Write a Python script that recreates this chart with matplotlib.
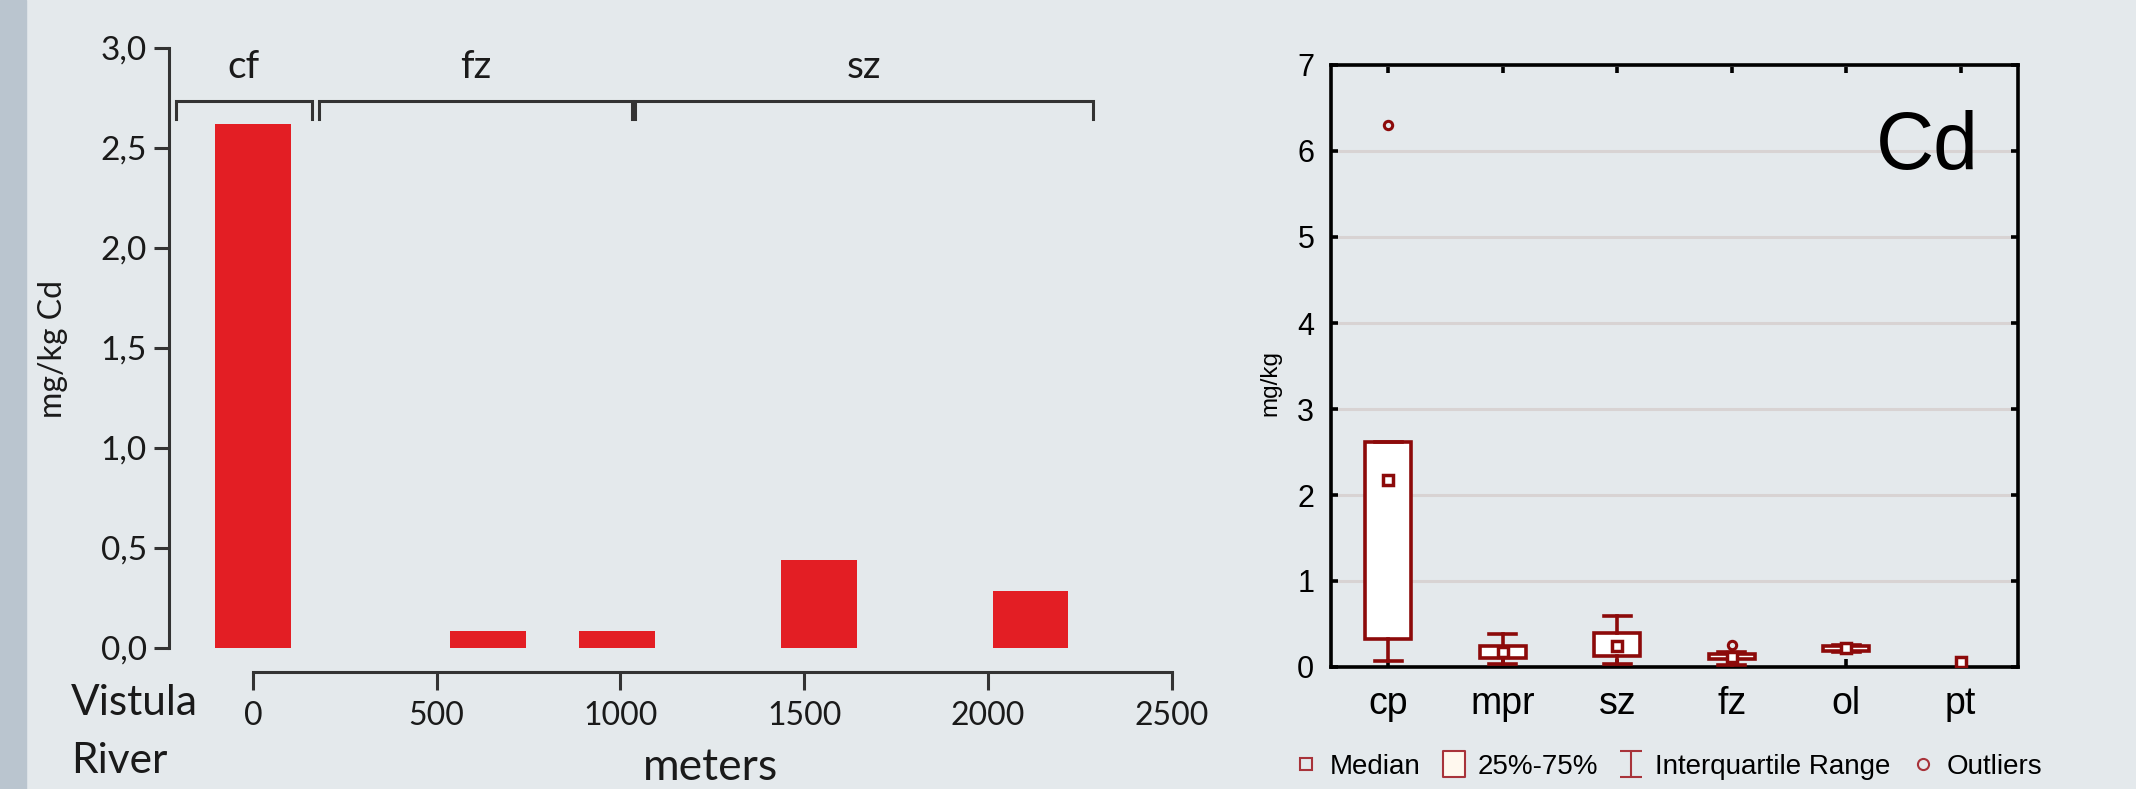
import matplotlib
matplotlib.use('Agg')
import matplotlib.pyplot as plt
from matplotlib.lines import Line2D
from matplotlib.path import Path
from matplotlib.patches import Rectangle
from matplotlib.ticker import FuncFormatter

# left: Cd along the transect away from the Vistula
dist_m = [0, 640, 990, 1540, 2115]
cd_mgkg = [2.62, 0.085, 0.085, 0.44, 0.285]
zones = ['cf', 'fz', 'sz']
zone_from = [-210, 180, 1040]
zone_to = [160, 1030, 2285]
dist_ticks = [0, 500, 1000, 1500, 2000, 2500]
cd_ticks = [0.0, 0.5, 1.0, 1.5, 2.0, 2.5, 3.0]

# right: box plot of Cd per land use
groups = ['cp', 'mpr', 'sz', 'fz', 'ol', 'pt']
low = [0.07, 0.03, 0.04, 0.02, 0.18, 0.06]
q1 = [0.33, 0.10, 0.13, 0.09, 0.19, 0.06]
median = [2.17, 0.17, 0.25, 0.12, 0.22, 0.06]
q3 = [2.62, 0.25, 0.39, 0.15, 0.25, 0.06]
high = [2.62, 0.38, 0.59, 0.17, 0.26, 0.06]
outliers = [[6.3], [], [], [0.26], [], []]

W, H = 2136, 789
plt.rcParams['font.family'] = ['Lato', 'DejaVu Sans']
ARIAL = ['Liberation Sans', 'DejaVu Sans']
ink = '#1a1a1a'
axc = '#333333'
red = '#e31e24'
dark = '#8c0a0a'
leg = '#a8333a'


def box(l, t, r, b):
    return [l / W, 1 - b / H, (r - l) / W, (b - t) / H]


fig = plt.figure(figsize=(W / 100, H / 100), dpi=100, facecolor='#e4e9ec')
fig.patches.append(Rectangle((0, 0), 26 / W, 1, transform=fig.transFigure,
                             color='#bac5cf', zorder=0))

# ---------- left chart ----------
ax1 = fig.add_axes(box(169, 48, 1172, 648))
ax1.set_facecolor('none')
ax1.bar(dist_m, cd_mgkg, width=205, color=red, zorder=2)
ax1.set_xlim(-228, 2500)
ax1.set_ylim(0, 3)
for s in ['top', 'right']:
    ax1.spines[s].set_visible(False)
ax1.spines['left'].set_color(axc)
ax1.spines['left'].set_linewidth(2.2)
ax1.spines['bottom'].set_color(axc)
ax1.spines['bottom'].set_linewidth(2.2)
ax1.spines['bottom'].set_position(('outward', 17.3))
ax1.spines['bottom'].set_bounds(0, 2500)
ax1.set_xticks(dist_ticks)
ax1.set_yticks(cd_ticks)
ax1.yaxis.set_major_formatter(FuncFormatter(lambda v, p: f'{v:.1f}'.replace('.', ',')))
ax1.tick_params(axis='x', direction='out', length=13, width=2.2, color=axc,
                labelsize=23, labelcolor=ink, pad=8)
ax1.tick_params(axis='y', direction='out', length=11, width=2.2, color=axc,
                labelsize=24, labelcolor=ink, pad=5)

for name, s, e in zip(zones, zone_from, zone_to):
    ax1.plot([s, s, e, e], [2.645, 2.735, 2.735, 2.645], color=axc, lw=2.2,
             clip_on=False, solid_joinstyle='miter')
    ax1.text((s + e) / 2, 2.905, name, ha='center', va='center', fontsize=28, color=ink)

fig.text(53 / W, 1 - 349 / H, 'mg/kg Cd', rotation=90, ha='center', va='center',
         fontsize=23, color=ink)
fig.text(71 / W, 1 - 732 / H, 'Vistula\nRiver', ha='left', va='center',
         fontsize=30.5, color=ink, linespacing=1.65)
fig.text(711 / W, 1 - 768 / H, 'meters', ha='center', va='center', fontsize=32, color=ink)

# ---------- right chart ----------
ax2 = fig.add_axes(box(1331, 65, 2018, 667))
ax2.set_facecolor('none')
pos = list(range(len(groups)))
stats = []
pos_box = []
for i in pos:
    if q3[i] > q1[i]:
        stats.append(dict(whislo=low[i], q1=q1[i], med=median[i], q3=q3[i],
                          whishi=high[i], fliers=outliers[i]))
        pos_box.append(i)
ax2.bxp(stats, positions=pos_box, widths=0.4, capwidths=0.24, patch_artist=True,
        boxprops=dict(facecolor='white', edgecolor=dark, linewidth=2.6),
        whiskerprops=dict(color=dark, linewidth=2.6),
        capprops=dict(color=dark, linewidth=2.6),
        medianprops=dict(linewidth=0),
        flierprops=dict(marker='o', markerfacecolor='none', markeredgecolor=dark,
                        markersize=6, markeredgewidth=2.2),
        manage_ticks=False, zorder=3)
ax2.plot(pos, median, 's', mfc='white', mec=dark, ms=7.5, mew=2.5, zorder=5)

ax2.set_xlim(-0.5, 5.5)
ax2.set_ylim(0, 7)
ax2.set_yticks(range(8))
ax2.set_xticks(pos)
ax2.set_xticklabels(groups, family=ARIAL, fontsize=27)
for lab in ax2.get_yticklabels():
    lab.set_family(ARIAL)
ax2.yaxis.grid(True, color='#d8d3d3', linewidth=2.2)
ax2.set_axisbelow(True)
for s in ax2.spines.values():
    s.set_linewidth(2.6)
    s.set_color('black')
ax2.tick_params(axis='y', direction='in', length=5, width=2.6, right=True,
                labelsize=22, pad=12)
ax2.tick_params(axis='x', direction='in', length=6, width=2.6, top=True,
                pad=14)
fig.text(1270 / W, 1 - 383 / H, 'mg/kg', rotation=90, ha='center', va='center',
         family=ARIAL, fontsize=17.5)
ax2.text(0.943, 0.827, 'Cd', transform=ax2.transAxes, ha='right', va='baseline',
         family=ARIAL, fontsize=58)

# legend
rect_m = Path([(-0.85, -1), (0.85, -1), (0.85, 1), (-0.85, 1), (-0.85, -1)],
              [Path.MOVETO, Path.LINETO, Path.LINETO, Path.LINETO, Path.CLOSEPOLY])
ibeam = Path([(-0.8, 1), (0.8, 1), (0, 1), (0, -1), (-0.8, -1), (0.8, -1)],
             [Path.MOVETO, Path.LINETO, Path.MOVETO, Path.LINETO, Path.MOVETO, Path.LINETO])
handles = [
    Line2D([], [], ls='none', marker='s', ms=8, mfc='none', mec=leg, mew=1.5),
    Line2D([], [], ls='none', marker=rect_m, ms=19, mfc='#fff8ee', mec=leg, mew=1.5),
    Line2D([], [], ls='none', marker=ibeam, ms=19, mfc='none', mec=leg, mew=1.5),
    Line2D([], [], ls='none', marker='o', ms=8, mfc='none', mec=leg, mew=1.5),
]
fig.legend(handles, ['Median', '25%-75%', 'Interquartile Range', 'Outliers'],
           loc='center left', bbox_to_anchor=(1292 / W, 1 - 767 / H), ncol=4,
           frameon=False, handlelength=1.0, handletextpad=0.35, columnspacing=0.7,
           borderpad=0, borderaxespad=0, prop=dict(family=ARIAL, size=20))

fig.savefig('out.png', dpi=100, facecolor=fig.get_facecolor())
